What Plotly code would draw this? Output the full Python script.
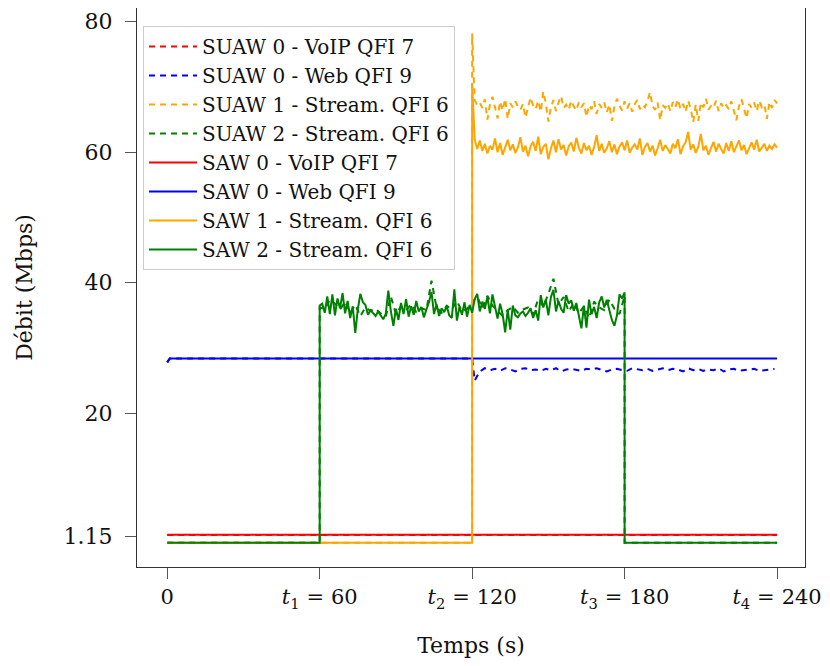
import plotly.graph_objects as go

# time axis ticks
TICK_VALS = [0, 60, 120, 180, 240]
TICK_TEXT = ["0", "<i>t</i><sub>1</sub>\u2004=\u200460", "<i>t</i><sub>2</sub>\u2004=\u2004120",
             "<i>t</i><sub>3</sub>\u2004=\u2004180", "<i>t</i><sub>4</sub>\u2004=\u2004240"]
Y_TICK_VALS = [1.15, 20, 40, 60, 80]
Y_TICK_TEXT = ["1.15", "20", "40", "60", "80"]

# idle level of the streaming flows
IDLE = 0.15

# VoIP (flat)
VOIP_T = [0, 240]
VOIP_SAW = [1.4, 1.4]
VOIP_SUAW = [1.35, 1.35]

# Web
WEB_SAW_T = [0, 1, 240]
WEB_SAW = [27.8, 28.4, 28.4]
WEB_SUAW_T_BEFORE = [0, 1, 120]
WEB_SUAW_BEFORE = [27.8, 28.4, 28.4]
WEB_SUAW_AFTER = [25.0, 26.4, 26.9, 26.6, 26.8, 26.5, 26.9, 26.7, 26.4, 26.8,
                  26.9, 26.6, 26.7, 26.5, 26.8, 26.6, 26.9, 26.4, 26.7, 26.8,
                  26.6, 26.5, 26.8, 26.7, 26.9, 26.6, 26.4, 26.7, 26.8, 26.6,
                  26.5, 26.9, 26.7, 26.6, 26.8, 26.5, 26.7, 26.9, 26.6, 26.8,
                  26.7, 26.4, 26.9, 26.6, 26.8, 26.5, 26.7, 26.6, 26.9, 26.4,
                  26.7, 26.8, 26.5, 26.6, 26.7, 26.8, 26.5, 26.6, 26.7, 26.8]

# stream 2 active between t1 and t3 (1 s samples)
SAW2_ACTIVE = [36.5, 36.8, 35.4, 37.9, 35.2, 38.2, 35.0, 37.6, 36.1, 38.4,
               35.3, 37.2, 34.6, 36.4, 32.3, 35.9, 38.3, 37.0, 36.6, 35.1,
               35.8, 35.4, 34.9, 35.6, 35.0, 34.4, 35.2, 38.8, 35.7, 33.4,
               36.0, 34.3, 36.9, 35.2, 37.5, 34.8, 36.4, 35.1, 37.2, 35.6,
               36.3, 34.7, 35.9, 37.0, 38.6, 35.2, 36.7, 34.9, 36.1, 35.5,
               36.4, 35.0, 34.6, 39.0, 34.2, 36.3, 35.1, 37.0, 34.8, 36.6,
               35.4, 37.5, 38.3, 35.6, 37.1, 36.0, 37.8, 35.3, 38.2, 36.4,
               34.5, 36.8, 35.2, 32.4, 35.9, 32.8, 36.5, 35.0, 34.7, 35.3,
               35.6, 34.9, 35.4, 36.1, 34.6, 35.8, 34.2, 38.1, 36.2, 37.4,
               35.0, 37.8, 38.9, 35.6, 37.2, 36.0, 35.4, 38.1, 36.8, 37.3,
               35.7, 36.9, 34.8, 33.0, 36.5, 33.1, 37.4, 35.2, 36.3, 34.6,
               37.0, 37.9, 36.2, 37.4, 35.8, 34.3, 33.4, 35.0, 38.2, 37.6,
               38.5]
# stream 2 SUAW (2 s samples)
SUAW2_ACTIVE = [36.2, 36.0, 37.4, 36.8, 35.9, 37.1, 35.4, 36.6, 34.9, 36.2,
                35.7, 36.0, 35.3, 34.8, 37.9, 35.2, 36.4, 35.8, 36.7, 35.5,
                36.1, 35.8, 40.3, 36.2, 35.4, 36.5, 35.9, 37.2, 35.6, 36.0,
                37.0, 37.9, 36.1, 38.0, 36.5, 35.7, 34.9, 35.8, 36.3, 35.4,
                35.9, 36.2, 35.1, 37.5, 36.4, 38.3, 40.6, 36.7, 37.8, 35.6,
                36.9, 35.3, 36.4, 34.6, 37.1, 36.2, 35.8, 37.4, 36.0, 35.2,
                38.0]

# stream 1 active from t2 (1 s samples)
SAW1_ACTIVE = [70.5, 62.0, 60.5, 61.8, 60.2, 61.3, 59.8, 61.0, 60.4, 62.1,
               60.0, 61.4, 59.6, 60.8, 61.9, 60.3, 61.2, 59.9, 60.7, 62.3,
               60.1, 61.0, 59.4, 60.9, 61.6, 60.2, 62.4, 59.7, 60.8, 61.3,
               58.9, 60.6, 61.8, 60.0, 62.0, 60.4, 61.1, 59.5, 60.9, 61.5,
               60.1, 62.2, 60.7, 59.8, 61.4, 60.3, 61.0, 59.6, 60.8, 62.6,
               60.2, 61.3, 59.9, 60.6, 61.7, 60.0, 61.2, 59.7, 60.9, 61.5,
               60.3, 61.8, 59.9, 60.7, 61.2, 60.4, 62.1, 59.6, 60.8, 61.4,
               60.1, 61.0, 59.5, 60.6, 61.9, 60.2, 61.1, 60.5, 59.8, 61.3,
               60.6, 62.0, 59.7, 60.9, 61.5, 63.1, 60.4, 61.2, 59.9, 60.8,
               62.8, 60.3, 61.0, 59.6, 60.7, 61.6, 60.1, 61.3, 60.5, 59.8,
               61.4, 60.2, 61.7, 60.0, 60.9, 61.8, 60.3, 61.1, 59.7, 60.6,
               61.5, 60.4, 61.9, 60.1, 60.8, 61.3, 60.2, 61.0, 60.5, 61.2,
               60.7]
SUAW1_ACTIVE = [78.2, 68.0, 67.2, 67.6, 66.8, 68.1, 65.0, 67.3, 68.5, 66.9,
                65.2, 67.8, 66.4, 68.2, 65.1, 67.5, 66.9, 67.8, 67.0, 66.5,
                67.4, 65.3, 66.8, 68.4, 67.1, 66.6, 67.9, 66.2, 69.3, 67.5,
                64.7, 66.9, 68.0, 66.3, 67.6, 68.6, 66.8, 67.3, 66.5, 67.9,
                67.0, 66.4, 67.7, 66.9, 67.5, 65.4, 67.2, 66.6, 67.8, 65.9,
                67.4, 66.8, 67.6, 66.1, 67.3, 64.8, 67.0, 68.2, 67.1, 66.4,
                67.8, 66.7, 67.5, 66.2, 67.4, 68.0, 66.6, 67.3, 66.9, 67.8,
                69.2, 67.0, 66.5, 67.6, 64.9, 67.2, 66.8, 67.5, 66.3, 67.7,
                66.9, 68.1, 66.6, 67.4, 66.2, 67.9, 66.7, 64.6, 67.3, 64.8,
                67.6, 66.9, 68.2, 66.5, 67.1, 66.8, 67.9, 66.3, 67.5, 66.7,
                67.2, 66.6, 67.8, 66.4, 64.9, 67.0, 68.1, 66.7, 65.2, 67.4,
                66.8, 67.6, 66.3, 67.9, 66.9, 67.3, 65.1, 67.7, 66.8, 68.0,
                67.5]

RED = "#ff0000"
BLUE = "#0000ff"
ORANGE = "#ffa500"
GREEN = "#008000"
FONT = "DejaVu Serif"
DASH = "6px,5px"

t_1s_a = list(range(60, 181))
t_2s_a = list(range(60, 181, 2))
t_1s_b = list(range(120, 241))
t_web_b = list(range(121, 241, 2))

s2_t = [0, 60] + t_1s_a + [180, 240]
s2_y = [IDLE, IDLE] + SAW2_ACTIVE + [IDLE, IDLE]
u2_t = [0, 60] + t_2s_a + [180, 240]
u2_y = [IDLE, IDLE] + SUAW2_ACTIVE + [IDLE, IDLE]
s1_t = [0, 120] + t_1s_b
s1_y = [IDLE, IDLE] + SAW1_ACTIVE
u1_t = [0, 120] + t_1s_b
u1_y = [IDLE, IDLE] + SUAW1_ACTIVE
uw_t = WEB_SUAW_T_BEFORE + t_web_b
uw_y = WEB_SUAW_BEFORE + WEB_SUAW_AFTER

traces = [
    ("SUAW 0 - VoIP QFI 7", VOIP_T, VOIP_SUAW, RED, DASH),
    ("SUAW 0 - Web QFI 9", uw_t, uw_y, BLUE, DASH),
    ("SUAW 1 - Stream. QFI 6", u1_t, u1_y, ORANGE, DASH),
    ("SUAW 2 - Stream. QFI 6", u2_t, u2_y, GREEN, DASH),
    ("SAW 0 - VoIP QFI 7", VOIP_T, VOIP_SAW, RED, "solid"),
    ("SAW 0 - Web QFI 9", WEB_SAW_T, WEB_SAW, BLUE, "solid"),
    ("SAW 1 - Stream. QFI 6", s1_t, s1_y, ORANGE, "solid"),
    ("SAW 2 - Stream. QFI 6", s2_t, s2_y, GREEN, "solid"),
]

fig = go.Figure()
for name, x, y, color, dash in traces:
    fig.add_trace(go.Scatter(x=x, y=y, mode="lines", name=name,
                             line=dict(color=color, width=2, dash=dash)))

axis_common = dict(showgrid=False, zeroline=False, showline=True, mirror=True,
                   linecolor="#333333", linewidth=1, ticks="outside",
                   ticklen=11, tickcolor="#555555", tickwidth=1, automargin=False)

fig.update_xaxes(range=[-11.9, 251], tickvals=TICK_VALS, ticktext=TICK_TEXT,
                 tickfont=dict(family=FONT, size=21, color="#111111"),
                 title=dict(text="Temps (s)", font=dict(family=FONT, size=22, color="#111111"),
                            standoff=29),
                 **axis_common)
fig.update_yaxes(range=[-3.56, 82.1], tickvals=Y_TICK_VALS, ticktext=Y_TICK_TEXT,
                 tickfont=dict(family=FONT, size=22, color="#111111"),
                 title=dict(text="Débit (Mbps)", font=dict(family=FONT, size=22, color="#111111"),
                            standoff=24),
                 ticklabelstandoff=8,
                 **axis_common)

# page body has an 8px margin: keep the page free of scrollbars
fig.update_layout(
    width=814, height=650,
    margin=dict(l=129, r=17, t=0, b=91),
    plot_bgcolor="white", paper_bgcolor="white",
    font=dict(family=FONT, color="#111111"),
    legend=dict(x=0.009, y=0.968, xanchor="left", yanchor="top",
                bgcolor="white", bordercolor="#cccccc", borderwidth=1,
                font=dict(family=FONT, size=20, color="#111111"),
                itemwidth=48, tracegroupgap=0),
)

fig.write_html("out.html")
